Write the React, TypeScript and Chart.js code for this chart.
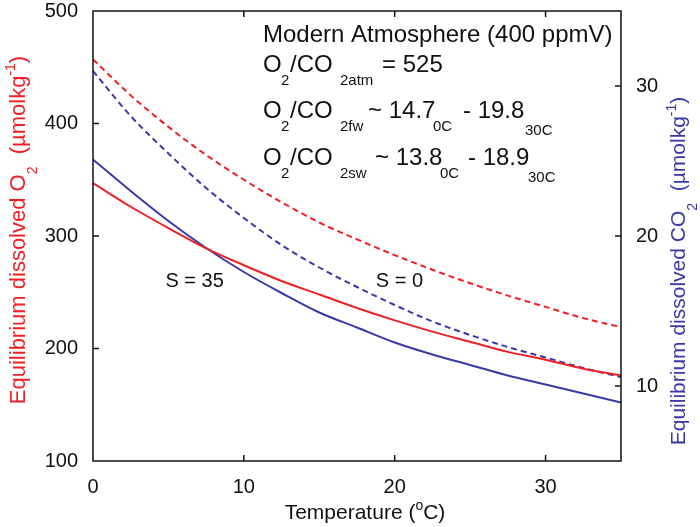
import React, { useEffect, useRef } from 'react';
import { Chart, registerables } from 'chart.js';

Chart.register(...registerables);

// ---- data ----
const temperature = [0, 2.5, 5, 7.5, 10, 12.5, 15, 17.5, 20, 22.5, 25, 27.5, 30, 32.5, 35];
// O2 (µmol/kg), left axis
const o2Fresh = [457, 425, 397, 372, 350, 330, 312, 297, 283, 270, 258, 247, 237, 227, 219];
const o2Sea = [347, 326, 307, 289, 274, 260, 248, 236, 225, 215, 206, 197, 190, 182, 176];
// CO2 (µmol/kg), right axis
const co2Fresh = [31.0, 28.0, 25.5, 23.2, 21.2, 19.4, 17.9, 16.6, 15.4, 14.3, 13.4, 12.6, 11.9, 11.2, 10.6];
const co2Sea = [25.1, 23.0, 21.0, 19.2, 17.6, 16.2, 14.9, 13.9, 12.9, 12.1, 11.4, 10.7, 10.1, 9.5, 8.9];

const xTicks = [0, 10, 20, 30];
const o2Ticks = [100, 200, 300, 400, 500];
const co2Ticks = [10, 20, 30];

const RED = '#ee2126';
const BLUE = '#3a3aa6';
const FONT = '"Liberation Sans", Arial, Helvetica, sans-serif';

type Seg = { t: string; k?: 'n' | 'sub' | 'sub2' | 'sup'; x?: number };

function drawRich(
  ctx: CanvasRenderingContext2D,
  segs: Seg[],
  x0: number,
  y: number,
  size: number,
  small: number,
  align: 'left' | 'center'
) {
  const f = (s: number) => `${s}px ${FONT}`;
  const widths = segs.map((s) => {
    ctx.font = f(s.k && s.k !== 'n' ? small : size);
    return ctx.measureText(s.t).width;
  });
  const total = widths.reduce((a, b) => a + b, 0);
  let x = align === 'center' ? x0 - total / 2 : x0;
  ctx.textAlign = 'left';
  ctx.textBaseline = 'alphabetic';
  segs.forEach((s, i) => {
    const isSmall = s.k && s.k !== 'n';
    ctx.font = f(isSmall ? small : size);
    let dy = 0;
    if (s.k === 'sub') dy = size * 0.55;
    if (s.k === 'sub2') dy = size * 0.69;
    if (s.k === 'sup') dy = -size * 0.45;
    const xx = s.x !== undefined ? s.x : x;
    ctx.fillText(s.t, xx, y + dy);
    x = xx + widths[i];
  });
}

const decorPlugin = {
  id: 'decor',
  afterDraw(chart: any) {
    const ctx: CanvasRenderingContext2D = chart.ctx;
    const { left, right, top, bottom } = chart.chartArea;
    const xs = chart.scales.x;
    const yl = chart.scales.y;
    const yr = chart.scales.y2;
    ctx.save();
    // frame
    ctx.strokeStyle = '#111';
    ctx.lineWidth = 1.5;
    ctx.strokeRect(left, top, right - left, bottom - top);
    // inward ticks
    const tl = 6;
    ctx.beginPath();
    xTicks.forEach((v) => {
      if (v <= xs.min || v >= xs.max) return;
      const px = xs.getPixelForValue(v);
      ctx.moveTo(px, bottom);
      ctx.lineTo(px, bottom - tl);
      ctx.moveTo(px, top);
      ctx.lineTo(px, top + tl);
    });
    o2Ticks.forEach((v) => {
      if (v <= yl.min || v >= yl.max) return;
      const py = yl.getPixelForValue(v);
      ctx.moveTo(left, py);
      ctx.lineTo(left + tl, py);
    });
    co2Ticks.forEach((v) => {
      const py = yr.getPixelForValue(v);
      ctx.moveTo(right, py);
      ctx.lineTo(right - tl, py);
    });
    ctx.stroke();

    // axis titles
    ctx.fillStyle = '#111';
    drawRich(
      ctx,
      [{ t: 'Temperature (' }, { t: 'o', k: 'sup' }, { t: 'C)' }],
      (left + right) / 2 + 8,
      519,
      21,
      14,
      'center'
    );

    const titleSegs: Seg[] = [
      { t: 'Equilibrium dissolved O' },
      { t: '2', k: 'sub' },
      { t: '  (µmolkg' },
      { t: '-1', k: 'sup' },
      { t: ')' },
    ];
    ctx.save();
    ctx.translate(25, 230);
    ctx.rotate(-Math.PI / 2);
    ctx.fillStyle = RED;
    drawRich(ctx, titleSegs, 0, 0, 22, 14, 'center');
    ctx.restore();

    const titleSegs2: Seg[] = [
      { t: 'Equilibrium dissolved CO' },
      { t: '2', k: 'sub' },
      { t: '  (µmolkg' },
      { t: '-1', k: 'sup' },
      { t: ')' },
    ];
    ctx.save();
    ctx.translate(685, 271);
    ctx.rotate(-Math.PI / 2);
    ctx.fillStyle = BLUE;
    drawRich(ctx, titleSegs2, 0, 0, 21, 14, 'center');
    ctx.restore();

    // annotation block
    ctx.fillStyle = '#111';
    const M = 24;
    const S = 15;
    drawRich(ctx, [{ t: 'Modern Atmosphere (400 ppmV)', x: 263 }], 263, 42, M, S, 'left');
    drawRich(
      ctx,
      [
        { t: 'O', x: 263 },
        { t: '2', k: 'sub', x: 281 },
        { t: '/CO', x: 290 },
        { t: '2atm', k: 'sub', x: 340 },
        { t: '= 525', x: 382 },
      ],
      263, 72, M, S, 'left'
    );
    drawRich(
      ctx,
      [
        { t: 'O', x: 263 },
        { t: '2', k: 'sub', x: 281 },
        { t: '/CO', x: 290 },
        { t: '2fw', k: 'sub', x: 340 },
        { t: '~ 14.7', x: 368 },
        { t: '0C', k: 'sub', x: 433 },
        { t: '- 19.8', x: 463 },
        { t: '30C', k: 'sub2', x: 525 },
      ],
      263, 118, M, S, 'left'
    );
    drawRich(
      ctx,
      [
        { t: 'O', x: 263 },
        { t: '2', k: 'sub', x: 281 },
        { t: '/CO', x: 290 },
        { t: '2sw', k: 'sub', x: 340 },
        { t: '~ 13.8', x: 375 },
        { t: '0C', k: 'sub', x: 440 },
        { t: '- 18.9', x: 468 },
        { t: '30C', k: 'sub2', x: 528 },
      ],
      263, 165, M, S, 'left'
    );

    // salinity labels (placed in data coordinates)
    ctx.font = `20px ${FONT}`;
    ctx.textAlign = 'left';
    ctx.textBaseline = 'alphabetic';
    ctx.fillText('S = 35', xs.getPixelForValue(4.8), yl.getPixelForValue(255));
    ctx.fillText('S = 0', xs.getPixelForValue(18.75), yl.getPixelForValue(255));
    ctx.restore();
  },
};

function pts(vals: number[]) {
  return temperature.map((t, i) => ({ x: t, y: vals[i] }));
}

export default function App() {
  const ref = useRef<HTMLCanvasElement | null>(null);
  useEffect(() => {
    if (!ref.current) return;
    const tickFont = { family: FONT, size: 20, lineHeight: 1.0 };
    const common = { pointRadius: 0, borderWidth: 2, cubicInterpolationMode: 'monotone' as const, fill: false };
    const chart = new Chart(ref.current, {
      type: 'line',
      data: {
        datasets: [
          { label: 'O2 S=35', data: pts(o2Sea), yAxisID: 'y', borderColor: RED, ...common },
          { label: 'CO2 S=35', data: pts(co2Sea), yAxisID: 'y2', borderColor: BLUE, ...common },
          { label: 'O2 S=0', data: pts(o2Fresh), yAxisID: 'y', borderColor: RED, borderDash: [6, 4], ...common },
          { label: 'CO2 S=0', data: pts(co2Fresh), yAxisID: 'y2', borderColor: BLUE, borderDash: [6, 4], ...common },
        ],
      },
      options: {
        animation: false,
        responsive: false,
        layout: { padding: { top: 11, left: 0, right: 0, bottom: 0 } },
        plugins: { legend: { display: false }, tooltip: { enabled: false } },
        scales: {
          x: {
            type: 'linear',
            position: 'bottom',
            min: 0,
            max: 35,
            grid: { display: false, drawTicks: false },
            border: { display: false },
            ticks: { color: '#111', font: tickFont, padding: 16, includeBounds: false },
            afterBuildTicks: (s: any) => {
              s.ticks = xTicks.map((v) => ({ value: v }));
            },
            afterFit: (s: any) => {
              s.height = 66;
              s.paddingLeft = 0;
              s.paddingRight = 0;
            },
          },
          y: {
            type: 'linear',
            position: 'left',
            min: 100,
            max: 500,
            grid: { display: false, drawTicks: false },
            border: { display: false },
            ticks: { color: '#111', font: tickFont, padding: 15 },
            afterBuildTicks: (s: any) => {
              s.ticks = o2Ticks.map((v) => ({ value: v }));
            },
            afterFit: (s: any) => {
              s.width = 93;
              s.paddingTop = 0;
              s.paddingBottom = 0;
            },
          },
          y2: {
            type: 'linear',
            position: 'right',
            min: 5,
            max: 35,
            grid: { display: false, drawTicks: false },
            border: { display: false },
            ticks: { color: '#111', font: tickFont, padding: 15 },
            afterBuildTicks: (s: any) => {
              s.ticks = co2Ticks.map((v) => ({ value: v }));
            },
            afterFit: (s: any) => {
              s.width = 79;
              s.paddingTop = 0;
              s.paddingBottom = 0;
            },
          },
        },
      } as any,
      plugins: [decorPlugin],
    });
    return () => chart.destroy();
  }, []);
  return (
    <div style={{ position: 'absolute', left: 0, top: 0, width: 700, height: 527, background: '#fff' }}>
      <canvas ref={ref} width={700} height={527} style={{ display: 'block' }} />
    </div>
  );
}
